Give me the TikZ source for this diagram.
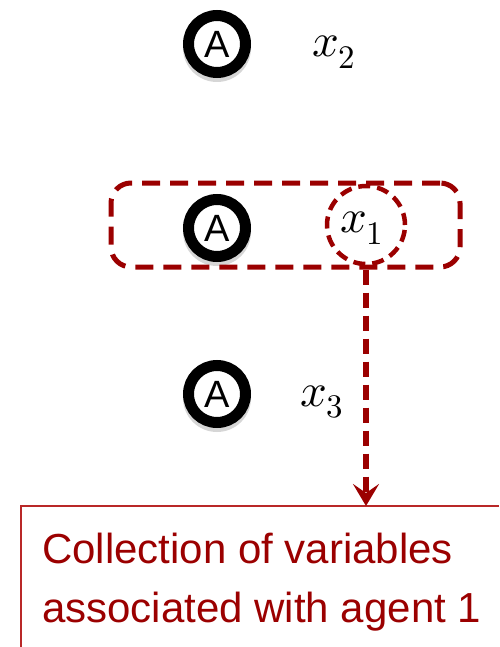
\documentclass[tikz,border=0pt]{standalone}
\usepackage{fontspec}
\usepackage{unicode-math}
\setmainfont{Liberation Sans}
\setmathfont{Latin Modern Math}
\usetikzlibrary{arrows.meta}
\definecolor{darkred}{RGB}{155,0,0}
\definecolor{notered}{RGB}{185,40,40}
\begin{document}
\begin{tikzpicture}[x=1pt,y=-1pt,
  agent/.style={circle, draw=black, line width=11pt, fill=white, minimum size=57pt,
    inner sep=0pt, font=\fontsize{38}{38}\selectfont},
  agentshade/.style={circle, fill=black, opacity=0.16, minimum size=68pt, inner sep=0pt},
  var/.style={inner sep=0pt, font=\fontsize{47}{47}\selectfont},
  group/.style={draw=darkred, line width=5pt, dash pattern=on 18pt off 10pt,
    rounded corners=20pt, minimum width=349pt, minimum height=84pt, inner sep=0pt},
  varring/.style={circle, draw=darkred, line width=4.5pt, dash pattern=on 12pt off 7pt,
    minimum size=78pt, inner sep=0pt},
  link/.style={draw=darkred, line width=6pt, dash pattern=on 15pt off 8pt,
    -{Stealth[length=22pt,width=26pt,inset=9pt]}},
  note/.style={draw=notered, line width=1.5pt},
  notetext/.style={anchor=base west, inner sep=0pt, text=darkred,
    font=\fontsize{42}{59}\selectfont}]
\useasboundingbox (0,0) rectangle (499,647);

% soft shadows under the agent rings
\node[agentshade] (s2) at (217,48) {};
\node[agentshade] (s1) at (217,232) {};
\node[agentshade] (s3) at (217,398) {};

% agents and their variables
\node[agent] (a2) at (217,44) {A};
\node[var] (x2) at (334,52) {$x_2$};

\node[group] (grp) at (285.5,225) {};
\node[agent] (a1) at (217,228) {A};
\node[varring] (v1) at (366,225) {};
\node[var] (x1) at (362,228) {$x_1$};

\node[agent] (a3) at (217,394) {A};
\node[var] (x3) at (322,402) {$x_3$};

% note box, open to the right and below
\coordinate (boxtl) at (21,506);
\coordinate (boxr) at (499,506);
\coordinate (boxb) at (21,647);
\draw[note] (boxr) -- (boxtl) -- (boxb);
\node[notetext] (t1) at (42,563) {Collection of variables};
\node[notetext] (t2) at (42,622) {associated with agent 1};

% link from the grouped variable to the note
\draw[link] (grp.south -| v1.center) -- (boxtl -| v1.center);
\end{tikzpicture}
\end{document}
